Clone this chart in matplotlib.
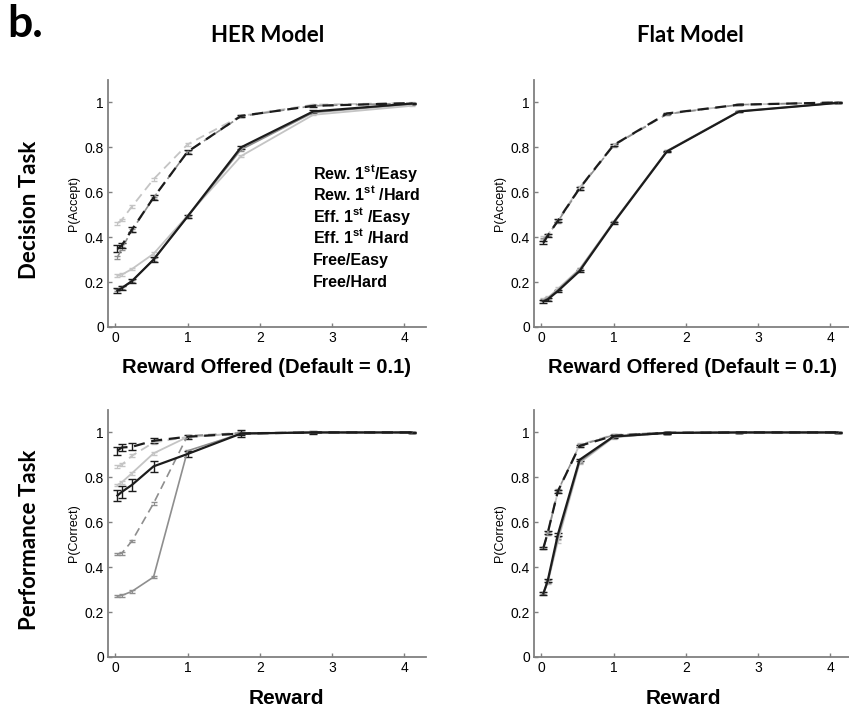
import matplotlib
matplotlib.use("Agg")
import matplotlib.pyplot as plt

plt.rcParams['font.family'] = ['Liberation Sans', 'DejaVu Sans']
plt.rcParams['mathtext.fontset'] = 'custom'
plt.rcParams['mathtext.rm'] = 'Liberation Sans:bold'

# reward levels (x)
reward = [0.03, 0.09, 0.23, 0.53, 1.0, 1.74, 2.74, 4.1]

labels = ["Rew. 1$^{\\mathrm{st}}$/Easy", "Rew. 1$^{\\mathrm{st}}$ /Hard",
          "Eff. 1$^{\\mathrm{st}}$ /Easy", "Eff. 1$^{\\mathrm{st}}$ /Hard",
          "Free/Easy", "Free/Hard"]

# HER model, decision task: P(Accept)
her_dec_rew_easy = [0.348, 0.363, 0.433, 0.576, 0.780, 0.940, 0.985, 0.997]
her_dec_rew_hard = [0.163, 0.173, 0.204, 0.300, 0.492, 0.800, 0.960, 0.995]
her_dec_eff_easy = [0.462, 0.477, 0.536, 0.658, 0.813, 0.940, 0.990, 0.998]
her_dec_eff_hard = [0.228, 0.233, 0.258, 0.326, 0.496, 0.761, 0.945, 0.985]
her_dec_free_easy = [0.310, 0.350, 0.430, 0.575, 0.780, 0.938, 0.985, 0.997]
her_dec_free_hard = [0.165, 0.175, 0.205, 0.300, 0.490, 0.790, 0.955, 0.993]

# HER model, performance task: P(Correct)
her_perf_rew_easy = [0.919, 0.933, 0.936, 0.963, 0.981, 0.995, 1.0, 1.0]
her_perf_rew_hard = [0.719, 0.735, 0.766, 0.849, 0.904, 0.995, 1.0, 1.0]
her_perf_eff_easy = [0.849, 0.856, 0.896, 0.955, 0.980, 0.995, 1.0, 1.0]
her_perf_eff_hard = [0.766, 0.778, 0.818, 0.907, 0.980, 0.997, 1.0, 1.0]
her_perf_free_easy = [0.459, 0.462, 0.516, 0.684, 0.985, 0.998, 1.0, 1.0]
her_perf_free_hard = [0.271, 0.274, 0.292, 0.356, 0.918, 0.995, 1.0, 1.0]

# Flat model, decision task
flat_dec_rew_easy = [0.375, 0.407, 0.473, 0.618, 0.810, 0.951, 0.990, 1.0]
flat_dec_rew_hard = [0.114, 0.123, 0.160, 0.249, 0.464, 0.782, 0.960, 0.998]
flat_dec_eff_easy = [0.400, 0.410, 0.476, 0.620, 0.810, 0.950, 0.990, 1.0]
flat_dec_eff_hard = [0.125, 0.130, 0.170, 0.258, 0.468, 0.785, 0.962, 0.998]
flat_dec_free_easy = [0.390, 0.410, 0.470, 0.615, 0.808, 0.948, 0.990, 1.0]
flat_dec_free_hard = [0.120, 0.128, 0.165, 0.255, 0.466, 0.783, 0.960, 0.998]

# Flat model, performance task
flat_perf_rew_easy = [0.486, 0.553, 0.738, 0.940, 0.985, 0.998, 1.0, 1.0]
flat_perf_rew_hard = [0.283, 0.340, 0.545, 0.878, 0.982, 0.998, 1.0, 1.0]
flat_perf_eff_easy = [0.486, 0.550, 0.735, 0.945, 0.990, 0.999, 1.0, 1.0]
flat_perf_eff_hard = [0.283, 0.330, 0.515, 0.864, 0.978, 0.998, 1.0, 1.0]
flat_perf_free_easy = [0.485, 0.550, 0.740, 0.942, 0.988, 0.999, 1.0, 1.0]
flat_perf_free_hard = [0.285, 0.335, 0.530, 0.870, 0.980, 0.998, 1.0, 1.0]

# standard errors
err_black_dash = [0.015, 0.012, 0.012, 0.010, 0.008, 0.006, 0.004, 0.002]
err_black_solid = [0.012, 0.010, 0.010, 0.010, 0.008, 0.008, 0.006, 0.002]
err_black_solid_perf = [0.025, 0.025, 0.025, 0.025, 0.015, 0.015, 0.005, 0.002]
err_black_dash_perf = [0.018, 0.015, 0.015, 0.012, 0.008, 0.005, 0.003, 0.002]
err_small = [0.006, 0.006, 0.006, 0.006, 0.005, 0.004, 0.003, 0.002]

light = '#c4c4c4'
mid = '#8e8e8e'
black = '#1c1c1c'
dash = (0, (5, 3))

fig = plt.figure(figsize=(8.49, 7.14), dpi=100)


def make_ax(rect, ylab):
    ax = fig.add_axes(rect)
    ax.set_xlim(-0.1, 4.3)
    ax.set_ylim(0, 1.1)
    ax.set_xticks([0, 1, 2, 3, 4])
    ax.set_xticklabels(['0', '1', '2', '3', '4'])
    ax.set_yticks([0, 0.2, 0.4, 0.6, 0.8, 1])
    ax.set_yticklabels(['0', '0.2', '0.4', '0.6', '0.8', '1'])
    for s in ['top', 'right']:
        ax.spines[s].set_visible(False)
    for s in ['left', 'bottom']:
        ax.spines[s].set_color('#808080')
        ax.spines[s].set_linewidth(1.3)
    ax.tick_params(direction='in', length=3, width=1, color='#808080',
                   labelsize=10, pad=3)
    ax.set_ylabel(ylab, fontsize=9, labelpad=3)
    return ax


def draw(ax, rew_easy, rew_hard, eff_easy, eff_hard, free_easy, free_hard,
         e_dash, e_solid):
    ax.errorbar(reward, eff_hard, yerr=err_small, color=light, lw=1.3,
                capsize=2, elinewidth=0.8)
    ax.errorbar(reward, eff_easy, yerr=err_small, color=light, lw=1.3,
                ls=dash, capsize=2, elinewidth=0.8)
    ax.errorbar(reward, free_hard, yerr=err_small, color=mid, lw=1.2,
                capsize=2, elinewidth=0.8)
    ax.errorbar(reward, free_easy, yerr=err_small, color=mid, lw=1.2,
                ls=dash, capsize=2, elinewidth=0.8)
    ax.errorbar(reward, rew_hard, yerr=e_solid, color=black, lw=1.6,
                capsize=3, elinewidth=1)
    ax.errorbar(reward, rew_easy, yerr=e_dash, color=black, lw=1.6,
                ls=dash, capsize=3, elinewidth=1)


col_l, col_r, w = 108 / 849, 534 / 849, 318 / 849
row_t, row_b, hgt = 1 - 327 / 714, 1 - 657 / 714, 247 / 714

ax1 = make_ax([col_l, row_t, w, hgt], 'P(Accept)')
draw(ax1, her_dec_rew_easy, her_dec_rew_hard, her_dec_eff_easy, her_dec_eff_hard,
     her_dec_free_easy, her_dec_free_hard, err_black_dash, err_black_solid)
# condition key (text only, as in the figure)
for i, lab in enumerate(labels):
    ax1.text(2.73, 0.66 - i * 0.096, lab, fontsize=11.5, fontweight='bold',
             ha='left', va='baseline')
ax1.set_xlabel('Reward Offered (Default = 0.1)', fontsize=14.5, fontweight='bold', labelpad=9)

ax2 = make_ax([col_r, row_t, w, hgt], 'P(Accept)')
draw(ax2, flat_dec_rew_easy, flat_dec_rew_hard, flat_dec_eff_easy, flat_dec_eff_hard,
     flat_dec_free_easy, flat_dec_free_hard, err_small, err_small)
ax2.set_xlabel('Reward Offered (Default = 0.1)', fontsize=14.5, fontweight='bold', labelpad=9)

ax3 = make_ax([col_l, row_b, w, hgt], 'P(Correct)')
draw(ax3, her_perf_rew_easy, her_perf_rew_hard, her_perf_eff_easy, her_perf_eff_hard,
     her_perf_free_easy, her_perf_free_hard, err_black_dash_perf, err_black_solid_perf)
ax3.set_xlabel('Reward', fontsize=15, fontweight='bold')
ax3.xaxis.set_label_coords(0.56, -0.13)

ax4 = make_ax([col_r, row_b, w, hgt], 'P(Correct)')
draw(ax4, flat_perf_rew_easy, flat_perf_rew_hard, flat_perf_eff_easy, flat_perf_eff_hard,
     flat_perf_free_easy, flat_perf_free_hard, err_small, err_small)
ax4.set_xlabel('Reward', fontsize=15, fontweight='bold')
ax4.xaxis.set_label_coords(0.47, -0.13)

# panel letter, column and row headings
fig.text(7 / 849, 1 - 24 / 714, 'b.', fontsize=32, fontweight='bold', family='Lato',
         va='center', ha='left')
fig.text(268 / 849, 1 - 35 / 714, 'HER Model', fontsize=16, fontweight='bold',
         family='Lato', ha='center', va='center')
fig.text(690 / 849, 1 - 35 / 714, 'Flat Model', fontsize=16, fontweight='bold',
         family='Lato', ha='center', va='center')
fig.text(30 / 849, 1 - 210 / 714, 'Decision Task', fontsize=16, fontweight='bold',
         family='Lato', rotation=90, ha='center', va='center')
fig.text(30 / 849, 1 - 540 / 714, 'Performance Task', fontsize=16, fontweight='bold',
         family='Lato', rotation=90, ha='center', va='center')

plt.savefig('out.png', dpi=100)
